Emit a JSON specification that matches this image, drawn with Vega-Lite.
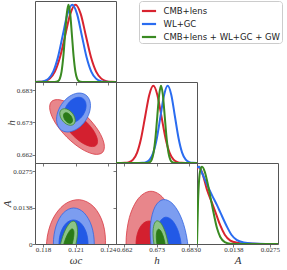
{
"$schema": "https://vega.github.io/schema/vega-lite/v6.json",
"padding": {"left": 1, "top": 0, "right": 0, "bottom": 0},
"background": "white",
"spacing": 0,
"bounds": "flush",
"columns": 3,
"config": {
  "view": {"stroke": "#555", "strokeWidth": 1},
  "axis": {"domain": false, "grid": false, "ticks": true, "tickSize": 3, "tickColor": "#555", "tickWidth": 0.8, "labelFont": "Liberation Serif", "labelFontSize": 7, "labelColor": "#333", "labelPadding": 0, "titleFont": "Liberation Serif", "titleFontStyle": "italic", "titleFontWeight": "normal", "titleFontSize": 11, "titleColor": "#333", "titlePadding": 0},
  "axisBottom": {"labelPadding": -2, "titlePadding": 2},
  "legend": {"title": null, "symbolType": "stroke", "symbolStrokeWidth": 2.2, "symbolSize": 200, "labelFont": "DejaVu Sans", "labelFontSize": 8.5, "labelColor": "#222", "labelOffset": 6, "strokeColor": "#ccc", "fillColor": "white", "padding": 1.5, "cornerRadius": 3, "rowPadding": -5.6, "labelLimit": 300}
},
"datasets": {
  "om1d": [
    {"m":"CMB+lens","x":0.11713,"p":0.0003},{"m":"CMB+lens","x":0.11761,"p":0.0022},{"m":"CMB+lens","x":0.11809,"p":0.0111},{"m":"CMB+lens","x":0.11857,"p":0.0439},{"m":"CMB+lens","x":0.11904,"p":0.1353},{"m":"CMB+lens","x":0.11952,"p":0.3247},{"m":"CMB+lens","x":0.12000,"p":0.6065},{"m":"CMB+lens","x":0.12047,"p":0.8825},{"m":"CMB+lens","x":0.12095,"p":1},{"m":"CMB+lens","x":0.12143,"p":0.8825},{"m":"CMB+lens","x":0.12190,"p":0.6065},{"m":"CMB+lens","x":0.12238,"p":0.3247},{"m":"CMB+lens","x":0.12286,"p":0.1353},{"m":"CMB+lens","x":0.12334,"p":0.0439},{"m":"CMB+lens","x":0.12381,"p":0.0111},{"m":"CMB+lens","x":0.12429,"p":0.0022},{"m":"CMB+lens","x":0.12477,"p":0.0003},
    {"m":"WL+GC","x":0.11713,"p":0.0003},{"m":"WL+GC","x":0.11757,"p":0.0022},{"m":"WL+GC","x":0.11801,"p":0.0111},{"m":"WL+GC","x":0.11845,"p":0.0439},{"m":"WL+GC","x":0.11889,"p":0.1353},{"m":"WL+GC","x":0.11933,"p":0.3247},{"m":"WL+GC","x":0.11977,"p":0.6065},{"m":"WL+GC","x":0.12021,"p":0.8825},{"m":"WL+GC","x":0.12065,"p":1},{"m":"WL+GC","x":0.12109,"p":0.8825},{"m":"WL+GC","x":0.12153,"p":0.6065},{"m":"WL+GC","x":0.12197,"p":0.3247},{"m":"WL+GC","x":0.12241,"p":0.1353},{"m":"WL+GC","x":0.12285,"p":0.0439},{"m":"WL+GC","x":0.12329,"p":0.0111},{"m":"WL+GC","x":0.12373,"p":0.0022},{"m":"WL+GC","x":0.12417,"p":0.0003},{"m":"WL+GC","x":0.12461,"p":0.00004},{"m":"WL+GC","x":0.12505,"p":0},
    {"m":"CMB+lens + WL+GC + GW","x":0.1170,"p":0},{"m":"CMB+lens + WL+GC + GW","x":0.11902,"p":0.0003},{"m":"CMB+lens + WL+GC + GW","x":0.11918,"p":0.0022},{"m":"CMB+lens + WL+GC + GW","x":0.11934,"p":0.0111},{"m":"CMB+lens + WL+GC + GW","x":0.11950,"p":0.0439},{"m":"CMB+lens + WL+GC + GW","x":0.11966,"p":0.1353},{"m":"CMB+lens + WL+GC + GW","x":0.11982,"p":0.3247},{"m":"CMB+lens + WL+GC + GW","x":0.11998,"p":0.6065},{"m":"CMB+lens + WL+GC + GW","x":0.12014,"p":0.8825},{"m":"CMB+lens + WL+GC + GW","x":0.12030,"p":1},{"m":"CMB+lens + WL+GC + GW","x":0.12046,"p":0.8825},{"m":"CMB+lens + WL+GC + GW","x":0.12062,"p":0.6065},{"m":"CMB+lens + WL+GC + GW","x":0.12078,"p":0.3247},{"m":"CMB+lens + WL+GC + GW","x":0.12094,"p":0.1353},{"m":"CMB+lens + WL+GC + GW","x":0.12110,"p":0.0439},{"m":"CMB+lens + WL+GC + GW","x":0.12126,"p":0.0111},{"m":"CMB+lens + WL+GC + GW","x":0.12142,"p":0.0022},{"m":"CMB+lens + WL+GC + GW","x":0.12158,"p":0.0003},{"m":"CMB+lens + WL+GC + GW","x":0.1250,"p":0}
  ],
  "h1d": [
    {"m":"CMB+lens","x":0.65837,"p":0},{"m":"CMB+lens","x":0.65968,"p":0.00004},{"m":"CMB+lens","x":0.66099,"p":0.0003},{"m":"CMB+lens","x":0.66230,"p":0.0022},{"m":"CMB+lens","x":0.66361,"p":0.0111},{"m":"CMB+lens","x":0.66492,"p":0.0439},{"m":"CMB+lens","x":0.66623,"p":0.1353},{"m":"CMB+lens","x":0.66754,"p":0.3247},{"m":"CMB+lens","x":0.66885,"p":0.6065},{"m":"CMB+lens","x":0.67016,"p":0.8825},{"m":"CMB+lens","x":0.67147,"p":1},{"m":"CMB+lens","x":0.67278,"p":0.8825},{"m":"CMB+lens","x":0.67409,"p":0.6065},{"m":"CMB+lens","x":0.67540,"p":0.3247},{"m":"CMB+lens","x":0.67671,"p":0.1353},{"m":"CMB+lens","x":0.67802,"p":0.0439},{"m":"CMB+lens","x":0.67933,"p":0.0111},{"m":"CMB+lens","x":0.68064,"p":0.0022},{"m":"CMB+lens","x":0.68195,"p":0.0003},{"m":"CMB+lens","x":0.68326,"p":0.00004},{"m":"CMB+lens","x":0.68700,"p":0},
    {"m":"WL+GC","x":0.65800,"p":0},{"m":"WL+GC","x":0.66680,"p":0.0003},{"m":"WL+GC","x":0.66797,"p":0.0022},{"m":"WL+GC","x":0.66913,"p":0.0111},{"m":"WL+GC","x":0.67030,"p":0.0439},{"m":"WL+GC","x":0.67146,"p":0.1353},{"m":"WL+GC","x":0.67263,"p":0.3247},{"m":"WL+GC","x":0.67379,"p":0.6065},{"m":"WL+GC","x":0.67496,"p":0.8825},{"m":"WL+GC","x":0.67612,"p":1},{"m":"WL+GC","x":0.67729,"p":0.8825},{"m":"WL+GC","x":0.67845,"p":0.6065},{"m":"WL+GC","x":0.67962,"p":0.3247},{"m":"WL+GC","x":0.68078,"p":0.1353},{"m":"WL+GC","x":0.68195,"p":0.0439},{"m":"WL+GC","x":0.68311,"p":0.0111},{"m":"WL+GC","x":0.68428,"p":0.0022},{"m":"WL+GC","x":0.68544,"p":0.0003},{"m":"WL+GC","x":0.68700,"p":0},
    {"m":"CMB+lens + WL+GC + GW","x":0.65800,"p":0},{"m":"CMB+lens + WL+GC + GW","x":0.66916,"p":0.0003},{"m":"CMB+lens + WL+GC + GW","x":0.66976,"p":0.0022},{"m":"CMB+lens + WL+GC + GW","x":0.67036,"p":0.0111},{"m":"CMB+lens + WL+GC + GW","x":0.67096,"p":0.0439},{"m":"CMB+lens + WL+GC + GW","x":0.67156,"p":0.1353},{"m":"CMB+lens + WL+GC + GW","x":0.67216,"p":0.3247},{"m":"CMB+lens + WL+GC + GW","x":0.67276,"p":0.6065},{"m":"CMB+lens + WL+GC + GW","x":0.67336,"p":0.8825},{"m":"CMB+lens + WL+GC + GW","x":0.67396,"p":1},{"m":"CMB+lens + WL+GC + GW","x":0.67456,"p":0.8825},{"m":"CMB+lens + WL+GC + GW","x":0.67516,"p":0.6065},{"m":"CMB+lens + WL+GC + GW","x":0.67576,"p":0.3247},{"m":"CMB+lens + WL+GC + GW","x":0.67636,"p":0.1353},{"m":"CMB+lens + WL+GC + GW","x":0.67696,"p":0.0439},{"m":"CMB+lens + WL+GC + GW","x":0.67756,"p":0.0111},{"m":"CMB+lens + WL+GC + GW","x":0.67816,"p":0.0022},{"m":"CMB+lens + WL+GC + GW","x":0.67876,"p":0.0003},{"m":"CMB+lens + WL+GC + GW","x":0.68700,"p":0}
  ],
  "A1d": [
    {"m":"CMB+lens","x":0,"p":0.97},{"m":"CMB+lens","x":0.0007,"p":1.0},{"m":"CMB+lens","x":0.0019,"p":0.93},{"m":"CMB+lens","x":0.0038,"p":0.70},{"m":"CMB+lens","x":0.0057,"p":0.53},{"m":"CMB+lens","x":0.0073,"p":0.38},{"m":"CMB+lens","x":0.0088,"p":0.24},{"m":"CMB+lens","x":0.0105,"p":0.12},{"m":"CMB+lens","x":0.0126,"p":0.045},{"m":"CMB+lens","x":0.0151,"p":0.018},{"m":"CMB+lens","x":0.0189,"p":0.006},{"m":"CMB+lens","x":0.024,"p":0.001},{"m":"CMB+lens","x":0.0306,"p":0},
    {"m":"WL+GC","x":0,"p":0.99},{"m":"WL+GC","x":0.0008,"p":1.0},{"m":"WL+GC","x":0.0019,"p":0.92},{"m":"WL+GC","x":0.0038,"p":0.77},{"m":"WL+GC","x":0.0057,"p":0.63},{"m":"WL+GC","x":0.0076,"p":0.50},{"m":"WL+GC","x":0.0088,"p":0.41},{"m":"WL+GC","x":0.0111,"p":0.24},{"m":"WL+GC","x":0.013,"p":0.12},{"m":"WL+GC","x":0.0151,"p":0.05},{"m":"WL+GC","x":0.0176,"p":0.02},{"m":"WL+GC","x":0.0214,"p":0.006},{"m":"WL+GC","x":0.026,"p":0.001},{"m":"WL+GC","x":0.0306,"p":0},
    {"m":"CMB+lens + WL+GC + GW","x":0,"p":0},{"m":"CMB+lens + WL+GC + GW","x":0.0004,"p":0.55},{"m":"CMB+lens + WL+GC + GW","x":0.0012,"p":0.95},{"m":"CMB+lens + WL+GC + GW","x":0.0019,"p":1.0},{"m":"CMB+lens + WL+GC + GW","x":0.003,"p":0.93},{"m":"CMB+lens + WL+GC + GW","x":0.0038,"p":0.82},{"m":"CMB+lens + WL+GC + GW","x":0.0057,"p":0.50},{"m":"CMB+lens + WL+GC + GW","x":0.0076,"p":0.20},{"m":"CMB+lens + WL+GC + GW","x":0.0088,"p":0.09},{"m":"CMB+lens + WL+GC + GW","x":0.0105,"p":0.025},{"m":"CMB+lens + WL+GC + GW","x":0.0126,"p":0.004},{"m":"CMB+lens + WL+GC + GW","x":0.016,"p":0},{"m":"CMB+lens + WL+GC + GW","x":0.0306,"p":0}
  ],
  "omh": [
    {"c":"r2","i":0,"x":0.12345,"y":0.66281},{"c":"r2","i":1,"x":0.12266,"y":0.66227},{"c":"r2","i":2,"x":0.12145,"y":0.66407},{"c":"r2","i":3,"x":0.12015,"y":0.66775},{"c":"r2","i":4,"x":0.11909,"y":0.67231},{"c":"r2","i":5,"x":0.11858,"y":0.67653},{"c":"r2","i":6,"x":0.11873,"y":0.67928},{"c":"r2","i":7,"x":0.11952,"y":0.67982},{"c":"r2","i":8,"x":0.12073,"y":0.67801},{"c":"r2","i":9,"x":0.12203,"y":0.67434},{"c":"r2","i":10,"x":0.12309,"y":0.66978},{"c":"r2","i":11,"x":0.12360,"y":0.66556},
    {"c":"r1","i":0,"x":0.12287,"y":0.66514},{"c":"r1","i":1,"x":0.12236,"y":0.66475},{"c":"r1","i":2,"x":0.12158,"y":0.66588},{"c":"r1","i":3,"x":0.12075,"y":0.66822},{"c":"r1","i":4,"x":0.12008,"y":0.67114},{"c":"r1","i":5,"x":0.11975,"y":0.67386},{"c":"r1","i":6,"x":0.11986,"y":0.67566},{"c":"r1","i":7,"x":0.12037,"y":0.67604},{"c":"r1","i":8,"x":0.12115,"y":0.67491},{"c":"r1","i":9,"x":0.12199,"y":0.67257},{"c":"r1","i":10,"x":0.12266,"y":0.66965},{"c":"r1","i":11,"x":0.12298,"y":0.66693},
    {"c":"b2","i":0,"x":0.12188,"y":0.68146},{"c":"b2","i":1,"x":0.12229,"y":0.67937},{"c":"b2","i":2,"x":0.12228,"y":0.67631},{"c":"b2","i":3,"x":0.12188,"y":0.67310},{"c":"b2","i":4,"x":0.12117,"y":0.67059},{"c":"b2","i":5,"x":0.12036,"y":0.66945},{"c":"b2","i":6,"x":0.11965,"y":0.67001},{"c":"b2","i":7,"x":0.11925,"y":0.67209},{"c":"b2","i":8,"x":0.11925,"y":0.67515},{"c":"b2","i":9,"x":0.11966,"y":0.67837},{"c":"b2","i":10,"x":0.12036,"y":0.68088},{"c":"b2","i":11,"x":0.12117,"y":0.68201},
    {"c":"b1","i":0,"x":0.12163,"y":0.68029},{"c":"b1","i":1,"x":0.12190,"y":0.67892},{"c":"b1","i":2,"x":0.12190,"y":0.67692},{"c":"b1","i":3,"x":0.12163,"y":0.67481},{"c":"b1","i":4,"x":0.12117,"y":0.67317},{"c":"b1","i":5,"x":0.12064,"y":0.67243},{"c":"b1","i":6,"x":0.12018,"y":0.67280},{"c":"b1","i":7,"x":0.11991,"y":0.67416},{"c":"b1","i":8,"x":0.11991,"y":0.67616},{"c":"b1","i":9,"x":0.12018,"y":0.67827},{"c":"b1","i":10,"x":0.12064,"y":0.67991},{"c":"b1","i":11,"x":0.12117,"y":0.68065},
    {"c":"g2","i":0,"x":0.12078,"y":0.67192},{"c":"g2","i":1,"x":0.12048,"y":0.67159},{"c":"g2","i":2,"x":0.12011,"y":0.67198},{"c":"g2","i":3,"x":0.11977,"y":0.67299},{"c":"g2","i":4,"x":0.11955,"y":0.67434},{"c":"g2","i":5,"x":0.11950,"y":0.67567},{"c":"g2","i":6,"x":0.11964,"y":0.67663},{"c":"g2","i":7,"x":0.11994,"y":0.67696},{"c":"g2","i":8,"x":0.12031,"y":0.67657},{"c":"g2","i":9,"x":0.12065,"y":0.67557},{"c":"g2","i":10,"x":0.12087,"y":0.67422},{"c":"g2","i":11,"x":0.12092,"y":0.67289},
    {"c":"g1","i":0,"x":0.12057,"y":0.67237},{"c":"g1","i":1,"x":0.12040,"y":0.67224},{"c":"g1","i":2,"x":0.12018,"y":0.67258},{"c":"g1","i":3,"x":0.11998,"y":0.67328},{"c":"g1","i":4,"x":0.11986,"y":0.67417},{"c":"g1","i":5,"x":0.11984,"y":0.67499},{"c":"g1","i":6,"x":0.11994,"y":0.67554},{"c":"g1","i":7,"x":0.12012,"y":0.67567},{"c":"g1","i":8,"x":0.12033,"y":0.67533},{"c":"g1","i":9,"x":0.12053,"y":0.67462},{"c":"g1","i":10,"x":0.12065,"y":0.67374},{"c":"g1","i":11,"x":0.12067,"y":0.67292}
  ],
  "omA": [
    {"c":"r2","i":0,"x":0.12133,"y":0.01673},{"c":"r2","i":1,"x":0.12264,"y":0.01405},{"c":"r2","i":2,"x":0.12351,"y":0.00760},{"c":"r2","i":3,"x":0.12371,"y":-0.00089},{"c":"r2","i":4,"x":0.12318,"y":-0.00914},{"c":"r2","i":5,"x":0.12207,"y":-0.01494},{"c":"r2","i":6,"x":0.12067,"y":-0.01673},{"c":"r2","i":7,"x":0.11936,"y":-0.01405},{"c":"r2","i":8,"x":0.11848,"y":-0.00760},{"c":"r2","i":9,"x":0.11828,"y":0.00089},{"c":"r2","i":10,"x":0.11881,"y":0.00914},{"c":"r2","i":11,"x":0.11992,"y":0.01494},
    {"c":"b2","i":0,"x":0.12079,"y":0.01361},{"c":"b2","i":1,"x":0.12174,"y":0.01179},{"c":"b2","i":2,"x":0.12244,"y":0.00680},{"c":"b2","i":3,"x":0.12269,"y":0},{"c":"b2","i":4,"x":0.12244,"y":-0.00680},{"c":"b2","i":5,"x":0.12174,"y":-0.01179},{"c":"b2","i":6,"x":0.12079,"y":-0.01361},{"c":"b2","i":7,"x":0.11984,"y":-0.01179},{"c":"b2","i":8,"x":0.11915,"y":-0.00680},{"c":"b2","i":9,"x":0.11890,"y":0},{"c":"b2","i":10,"x":0.11915,"y":0.00680},{"c":"b2","i":11,"x":0.11984,"y":0.01179},
    {"c":"b1","i":0,"x":0.12077,"y":0.00907},{"c":"b1","i":1,"x":0.12144,"y":0.00786},{"c":"b1","i":2,"x":0.12193,"y":0.00454},{"c":"b1","i":3,"x":0.12211,"y":0},{"c":"b1","i":4,"x":0.12193,"y":-0.00454},{"c":"b1","i":5,"x":0.12144,"y":-0.00786},{"c":"b1","i":6,"x":0.12077,"y":-0.00907},{"c":"b1","i":7,"x":0.12009,"y":-0.00786},{"c":"b1","i":8,"x":0.11960,"y":-0.00454},{"c":"b1","i":9,"x":0.11942,"y":0},{"c":"b1","i":10,"x":0.11960,"y":0.00454},{"c":"b1","i":11,"x":0.12009,"y":0.00786},
    {"c":"g2","i":0,"x":0.12081,"y":0.00862},{"c":"g2","i":1,"x":0.12107,"y":0.00712},{"c":"g2","i":2,"x":0.12113,"y":0.00372},{"c":"g2","i":3,"x":0.12096,"y":-0.00068},{"c":"g2","i":4,"x":0.12061,"y":-0.00490},{"c":"g2","i":5,"x":0.12017,"y":-0.00780},{"c":"g2","i":6,"x":0.11976,"y":-0.00862},{"c":"g2","i":7,"x":0.11950,"y":-0.00712},{"c":"g2","i":8,"x":0.11944,"y":-0.00372},{"c":"g2","i":9,"x":0.11961,"y":0.00068},{"c":"g2","i":10,"x":0.11996,"y":0.00490},{"c":"g2","i":11,"x":0.12040,"y":0.00780},
    {"c":"g1","i":0,"x":0.12067,"y":0.00569},{"c":"g1","i":1,"x":0.12080,"y":0.00470},{"c":"g1","i":2,"x":0.12077,"y":0.00247},{"c":"g1","i":3,"x":0.12061,"y":-0.00044},{"c":"g1","i":4,"x":0.12035,"y":-0.00322},{"c":"g1","i":5,"x":0.12007,"y":-0.00514},{"c":"g1","i":6,"x":0.11984,"y":-0.00569},{"c":"g1","i":7,"x":0.11972,"y":-0.00470},{"c":"g1","i":8,"x":0.11974,"y":-0.00247},{"c":"g1","i":9,"x":0.11990,"y":0.00044},{"c":"g1","i":10,"x":0.12016,"y":0.00322},{"c":"g1","i":11,"x":0.12044,"y":0.00514}
  ],
  "hA": [
    {"c":"r2","i":0,"x":0.67072,"y":0.01992},{"c":"r2","i":1,"x":0.67477,"y":0.01725},{"c":"r2","i":2,"x":0.67773,"y":0.00996},{"c":"r2","i":3,"x":0.67881,"y":0},{"c":"r2","i":4,"x":0.67773,"y":-0.00996},{"c":"r2","i":5,"x":0.67477,"y":-0.01725},{"c":"r2","i":6,"x":0.67072,"y":-0.01992},{"c":"r2","i":7,"x":0.66668,"y":-0.01725},{"c":"r2","i":8,"x":0.66372,"y":-0.00996},{"c":"r2","i":9,"x":0.66264,"y":0},{"c":"r2","i":10,"x":0.66372,"y":0.00996},{"c":"r2","i":11,"x":0.66668,"y":0.01725},
    {"c":"r1","i":0,"x":0.67008,"y":0.00869},{"c":"r1","i":1,"x":0.67218,"y":0.00753},{"c":"r1","i":2,"x":0.67372,"y":0.00435},{"c":"r1","i":3,"x":0.67428,"y":0},{"c":"r1","i":4,"x":0.67372,"y":-0.00435},{"c":"r1","i":5,"x":0.67218,"y":-0.00753},{"c":"r1","i":6,"x":0.67008,"y":-0.00869},{"c":"r1","i":7,"x":0.66797,"y":-0.00753},{"c":"r1","i":8,"x":0.66643,"y":-0.00435},{"c":"r1","i":9,"x":0.66587,"y":0},{"c":"r1","i":10,"x":0.66643,"y":0.00435},{"c":"r1","i":11,"x":0.66797,"y":0.00753},
    {"c":"b2","i":0,"x":0.67858,"y":-0.01678},{"c":"b2","i":1,"x":0.67539,"y":-0.01500},{"c":"b2","i":2,"x":0.67253,"y":-0.00919},{"c":"b2","i":3,"x":0.67078,"y":-0.00093},{"c":"b2","i":4,"x":0.67059,"y":0.00759},{"c":"b2","i":5,"x":0.67203,"y":0.01407},{"c":"b2","i":6,"x":0.67470,"y":0.01678},{"c":"b2","i":7,"x":0.67790,"y":0.01500},{"c":"b2","i":8,"x":0.68076,"y":0.00919},{"c":"b2","i":9,"x":0.68251,"y":0.00093},{"c":"b2","i":10,"x":0.68270,"y":-0.00759},{"c":"b2","i":11,"x":0.68126,"y":-0.01407},
    {"c":"b1","i":0,"x":0.67772,"y":-0.01012},{"c":"b1","i":1,"x":0.67563,"y":-0.00906},{"c":"b1","i":2,"x":0.67380,"y":-0.00558},{"c":"b1","i":3,"x":0.67270,"y":-0.00061},{"c":"b1","i":4,"x":0.67263,"y":0.00453},{"c":"b1","i":5,"x":0.67361,"y":0.00845},{"c":"b1","i":6,"x":0.67538,"y":0.01012},{"c":"b1","i":7,"x":0.67746,"y":0.00906},{"c":"b1","i":8,"x":0.67929,"y":0.00558},{"c":"b1","i":9,"x":0.68039,"y":0.00061},{"c":"b1","i":10,"x":0.68046,"y":-0.00453},{"c":"b1","i":11,"x":0.67948,"y":-0.00845},
    {"c":"g2","i":0,"x":0.67527,"y":-0.00875},{"c":"g2","i":1,"x":0.67397,"y":-0.00781},{"c":"g2","i":2,"x":0.67268,"y":-0.00477},{"c":"g2","i":3,"x":0.67173,"y":-0.00045},{"c":"g2","i":4,"x":0.67137,"y":0.00398},{"c":"g2","i":5,"x":0.67171,"y":0.00735},{"c":"g2","i":6,"x":0.67265,"y":0.00875},{"c":"g2","i":7,"x":0.67394,"y":0.00781},{"c":"g2","i":8,"x":0.67524,"y":0.00477},{"c":"g2","i":9,"x":0.67619,"y":0.00045},{"c":"g2","i":10,"x":0.67655,"y":-0.00398},{"c":"g2","i":11,"x":0.67621,"y":-0.00735},
    {"c":"g1","i":0,"x":0.67479,"y":-0.00559},{"c":"g1","i":1,"x":0.67404,"y":-0.00497},{"c":"g1","i":2,"x":0.67327,"y":-0.00302},{"c":"g1","i":3,"x":0.67268,"y":-0.00026},{"c":"g1","i":4,"x":0.67244,"y":0.00257},{"c":"g1","i":5,"x":0.67260,"y":0.00471},{"c":"g1","i":6,"x":0.67313,"y":0.00559},{"c":"g1","i":7,"x":0.67387,"y":0.00497},{"c":"g1","i":8,"x":0.67464,"y":0.00302},{"c":"g1","i":9,"x":0.67523,"y":0.00026},{"c":"g1","i":10,"x":0.67548,"y":-0.00257},{"c":"g1","i":11,"x":0.67532,"y":-0.00471}
  ]
},
"concat": [
    {"width": 81, "height": 81, "data": {"name": "om1d"},
     "mark": {"type": "line", "interpolate": "monotone", "strokeWidth": 2, "clip": true},
     "encoding": {
       "x": {"field": "x", "type": "quantitative", "scale": {"domain": [0.1172, 0.1247], "nice": false, "zero": false}, "axis": {"values": [0.11795, 0.12095, 0.12395], "labels": false, "title": null}},
       "y": {"field": "p", "type": "quantitative", "scale": {"domain": [0, 1.05], "nice": false}, "axis": null},
       "color": {"field": "m", "type": "nominal", "scale": {"domain": ["CMB+lens", "WL+GC", "CMB+lens + WL+GC + GW"], "range": ["#d8232f", "#2a6cf0", "#3a8a22"]}, "legend": {"orient": "none", "legendX": 104, "legendY": 0}}
     }},
    {"width": 81, "height": 81, "view": {"stroke": null}, "data": {"values": [{"v": 0}]}, "mark": {"type": "point", "opacity": 0}, "encoding": {}},
    {"width": 81, "height": 81, "view": {"stroke": null}, "data": {"values": [{"v": 0}]}, "mark": {"type": "point", "opacity": 0}, "encoding": {}},
    {"width": 81, "height": 81, "data": {"name": "omh"},
     "encoding": {
       "x": {"field": "x", "type": "quantitative", "scale": {"domain": [0.1172, 0.1247], "nice": false, "zero": false}, "axis": {"values": [0.11795, 0.12095, 0.12395], "labels": false, "title": null}},
       "y": {"field": "y", "type": "quantitative", "scale": {"domain": [0.6594, 0.6856], "nice": false, "zero": false}, "axis": {"values": [0.66202, 0.67251, 0.68298], "format": ".3f", "title": "h"}},
       "order": {"field": "i", "type": "quantitative"}
     },
     "layer": [
       {"transform": [{"filter": "datum.c == 'r2'"}], "mark": {"type": "line", "interpolate": "cardinal-closed", "fill": "#e8868b", "stroke": "#d83a44", "strokeWidth": 0.8, "clip": true}},
       {"transform": [{"filter": "datum.c == 'r1'"}], "mark": {"type": "line", "interpolate": "cardinal-closed", "fill": "#d3202f", "stroke": "#d3202f", "strokeWidth": 0.8, "clip": true}},
       {"transform": [{"filter": "datum.c == 'b2'"}], "mark": {"type": "line", "interpolate": "cardinal-closed", "fill": "#7c9df0", "stroke": "#3366e0", "strokeWidth": 0.8, "clip": true}},
       {"transform": [{"filter": "datum.c == 'b1'"}], "mark": {"type": "line", "interpolate": "cardinal-closed", "fill": "#2259e6", "stroke": "#2259e6", "strokeWidth": 0.8, "clip": true}},
       {"transform": [{"filter": "datum.c == 'g2'"}], "mark": {"type": "line", "interpolate": "cardinal-closed", "fill": "#8cc386", "stroke": "#3f8a2e", "strokeWidth": 0.8, "clip": true}},
       {"transform": [{"filter": "datum.c == 'g1'"}], "mark": {"type": "line", "interpolate": "cardinal-closed", "fill": "#2a7a17", "stroke": "#2a7a17", "strokeWidth": 0.8, "clip": true}}
     ]},
    {"width": 81, "height": 81, "data": {"name": "h1d"},
     "mark": {"type": "line", "interpolate": "monotone", "strokeWidth": 2, "clip": true},
     "encoding": {
       "x": {"field": "x", "type": "quantitative", "scale": {"domain": [0.6594, 0.6856], "nice": false, "zero": false}, "axis": {"values": [0.66202, 0.67251, 0.68298], "labels": false, "title": null}},
       "y": {"field": "p", "type": "quantitative", "scale": {"domain": [0, 1.05], "nice": false}, "axis": null},
       "color": {"field": "m", "type": "nominal", "legend": null}
     }},
    {"width": 81, "height": 81, "view": {"stroke": null}, "data": {"values": [{"v": 0}]}, "mark": {"type": "point", "opacity": 0}, "encoding": {}},
    {"width": 81, "height": 81, "data": {"name": "omA"},
     "encoding": {
       "x": {"field": "x", "type": "quantitative", "scale": {"domain": [0.1172, 0.1247], "nice": false, "zero": false}, "axis": {"values": [0.11795, 0.12095, 0.12395], "format": ".3f", "title": "ωc"}},
       "y": {"field": "y", "type": "quantitative", "scale": {"domain": [0, 0.0306], "nice": false, "zero": false}, "axis": {"values": [0, 0.01377, 0.02754], "labelExpr": "datum.value == 0 ? '0' : format(datum.value, '.4f')", "title": "A"}},
       "order": {"field": "i", "type": "quantitative"}
     },
     "layer": [
       {"transform": [{"filter": "datum.c == 'r2'"}], "mark": {"type": "line", "interpolate": "cardinal-closed", "fill": "#e8868b", "stroke": "#d83a44", "strokeWidth": 0.8, "clip": true}},
       {"transform": [{"filter": "datum.c == 'b2'"}], "mark": {"type": "line", "interpolate": "cardinal-closed", "fill": "#7c9df0", "stroke": "#3366e0", "strokeWidth": 0.8, "clip": true}},
       {"transform": [{"filter": "datum.c == 'b1'"}], "mark": {"type": "line", "interpolate": "cardinal-closed", "fill": "#2259e6", "stroke": "#2259e6", "strokeWidth": 0.8, "clip": true}},
       {"transform": [{"filter": "datum.c == 'g2'"}], "mark": {"type": "line", "interpolate": "cardinal-closed", "fill": "#8cc386", "stroke": "#3f8a2e", "strokeWidth": 0.8, "clip": true}},
       {"transform": [{"filter": "datum.c == 'g1'"}], "mark": {"type": "line", "interpolate": "cardinal-closed", "fill": "#2a7a17", "stroke": "#2a7a17", "strokeWidth": 0.8, "clip": true}}
     ]},
    {"width": 81, "height": 81, "data": {"name": "hA"},
     "encoding": {
       "x": {"field": "x", "type": "quantitative", "scale": {"domain": [0.6594, 0.6856], "nice": false, "zero": false}, "axis": {"values": [0.66202, 0.67251, 0.68298], "format": ".3f", "title": "h"}},
       "y": {"field": "y", "type": "quantitative", "scale": {"domain": [0, 0.0306], "nice": false, "zero": false}, "axis": {"values": [0, 0.01377, 0.02754], "labels": false, "title": null}},
       "order": {"field": "i", "type": "quantitative"}
     },
     "layer": [
       {"transform": [{"filter": "datum.c == 'r2'"}], "mark": {"type": "line", "interpolate": "cardinal-closed", "fill": "#e8868b", "stroke": "#d83a44", "strokeWidth": 0.8, "clip": true}},
       {"transform": [{"filter": "datum.c == 'r1'"}], "mark": {"type": "line", "interpolate": "cardinal-closed", "fill": "#d3202f", "stroke": "#d3202f", "strokeWidth": 0.8, "clip": true}},
       {"transform": [{"filter": "datum.c == 'b2'"}], "mark": {"type": "line", "interpolate": "cardinal-closed", "fill": "#7c9df0", "stroke": "#3366e0", "strokeWidth": 0.8, "clip": true}},
       {"transform": [{"filter": "datum.c == 'b1'"}], "mark": {"type": "line", "interpolate": "cardinal-closed", "fill": "#2259e6", "stroke": "#2259e6", "strokeWidth": 0.8, "clip": true}},
       {"transform": [{"filter": "datum.c == 'g2'"}], "mark": {"type": "line", "interpolate": "cardinal-closed", "fill": "#8cc386", "stroke": "#3f8a2e", "strokeWidth": 0.8, "clip": true}},
       {"transform": [{"filter": "datum.c == 'g1'"}], "mark": {"type": "line", "interpolate": "cardinal-closed", "fill": "#2a7a17", "stroke": "#2a7a17", "strokeWidth": 0.8, "clip": true}}
     ]},
    {"width": 81, "height": 81, "data": {"name": "A1d"},
     "mark": {"type": "line", "interpolate": "monotone", "strokeWidth": 2, "clip": true},
     "encoding": {
       "x": {"field": "x", "type": "quantitative", "scale": {"domain": [0, 0.0306], "nice": false, "zero": false}, "axis": {"values": [0, 0.01377, 0.02754], "labelExpr": "datum.value == 0 ? '0' : format(datum.value, '.4f')", "title": "A"}},
       "y": {"field": "p", "type": "quantitative", "scale": {"domain": [0, 1.05], "nice": false}, "axis": null},
       "color": {"field": "m", "type": "nominal", "legend": null}
     }}
]
}
